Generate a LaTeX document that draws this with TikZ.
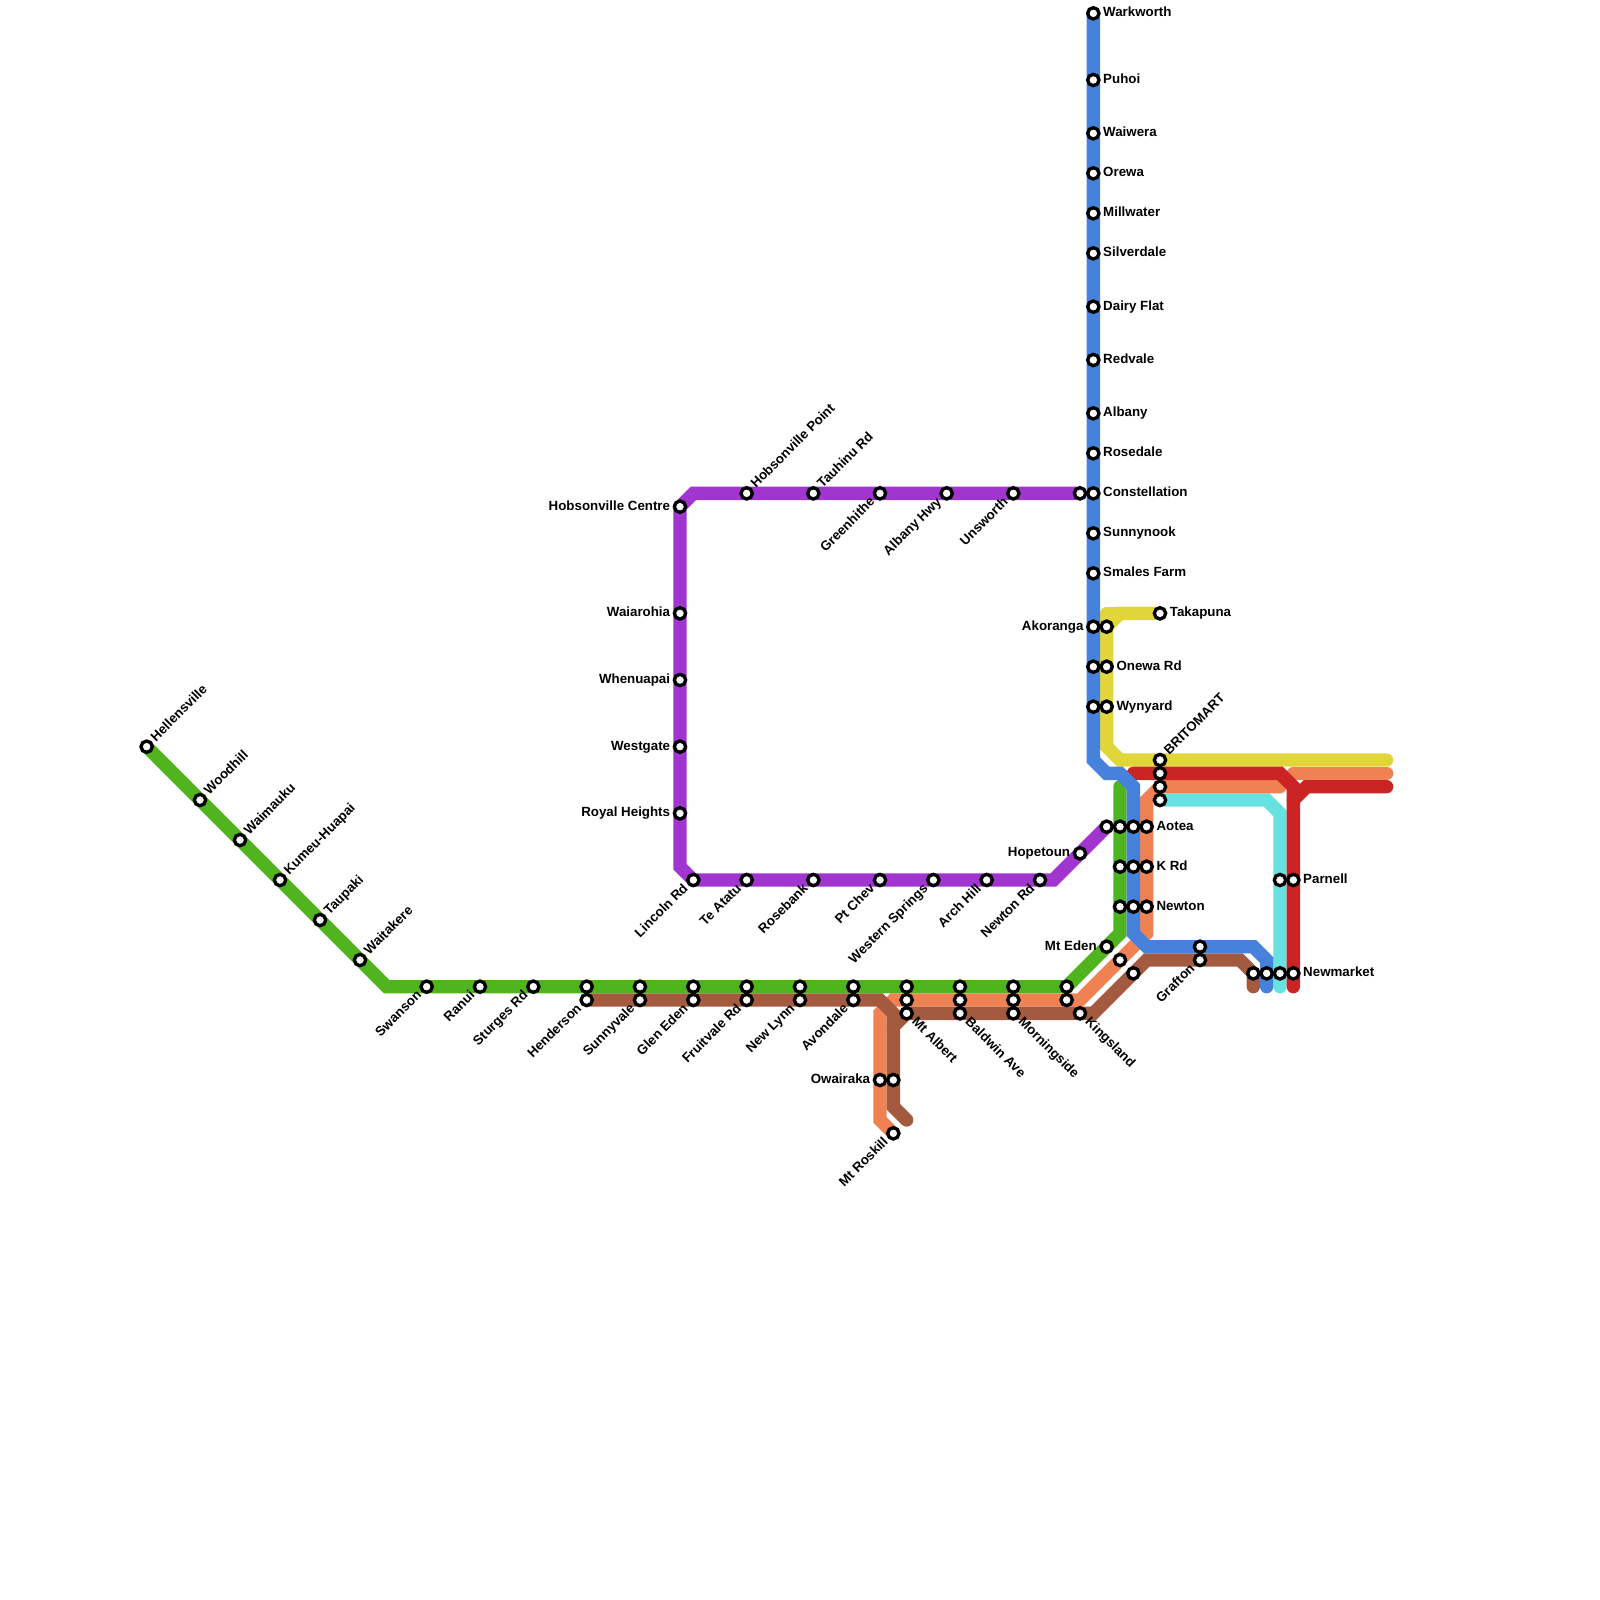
\documentclass[tikz,border=0pt]{standalone}
\usepackage{fontspec}
\setmainfont{Liberation Sans}
\usetikzlibrary{backgrounds}
\definecolor{metroGreen}{HTML}{50B41E}
\definecolor{metroBrown}{HTML}{A45A3F}
\definecolor{metroOrange}{HTML}{EF8152}
\definecolor{metroBlue}{HTML}{4682DC}
\definecolor{metroPurple}{HTML}{A035D0}
\definecolor{metroYellow}{HTML}{E0D63A}
\definecolor{metroRed}{HTML}{CA2424}
\definecolor{metroTeal}{HTML}{68E2E0}
\tikzset{
  metroLine/.style={line width=0.1333cm, line cap=round},
  stopMark/.style={
    circle,
    draw=black,
    fill=white,
    line width=0.0333cm,
    inner sep=0pt,
    minimum size=0.1133cm
  },
  stopName/.style={
    font=\fontsize{3.79}{4.5}\selectfont\bfseries,
    inner sep=0pt
  },
  nameE/.style={stopName, anchor=base west, xshift=0.092cm, yshift=-0.034cm},
  nameW/.style={stopName, anchor=base east, xshift=-0.092cm, yshift=-0.034cm},
  nameNE/.style={stopName, rotate=45, anchor=base west, xshift=0.092cm, yshift=-0.034cm},
  nameSW/.style={stopName, rotate=45, anchor=base east, xshift=-0.092cm, yshift=-0.034cm},
  nameSE/.style={stopName, rotate=-45, anchor=base west, xshift=0.092cm, yshift=-0.034cm}
}
\begin{document}
\begin{tikzpicture}[x=0.13333cm,y=-0.13333cm]
  \useasboundingbox (0,0) rectangle (120,120);

  % western line
  \node[stopMark] (hellensville) at (11,56) {};
  \node[stopMark] (woodhill) at (15,60) {};
  \node[stopMark] (waimauku) at (18,63) {};
  \node[stopMark] (kumeu) at (21,66) {};
  \node[stopMark] (taupaki) at (24,69) {};
  \node[stopMark] (waitakere) at (27,72) {};
  \node[stopMark] (swanson) at (32,74) {};
  \node[stopMark] (ranui) at (36,74) {};
  \node[stopMark] (sturges) at (40,74) {};
  \node[stopMark] (hendersonA) at (44,74) {};
  \node[stopMark] (hendersonB) at (44,75) {};
  \node[stopMark] (sunnyvaleA) at (48,74) {};
  \node[stopMark] (sunnyvaleB) at (48,75) {};
  \node[stopMark] (glenedenA) at (52,74) {};
  \node[stopMark] (glenedenB) at (52,75) {};
  \node[stopMark] (fruitvaleA) at (56,74) {};
  \node[stopMark] (fruitvaleB) at (56,75) {};
  \node[stopMark] (newlynnA) at (60,74) {};
  \node[stopMark] (newlynnB) at (60,75) {};
  \node[stopMark] (avondaleA) at (64,74) {};
  \node[stopMark] (avondaleB) at (64,75) {};
  \node[stopMark] (mtalbertA) at (68,74) {};
  \node[stopMark] (mtalbertB) at (68,75) {};
  \node[stopMark] (mtalbertC) at (68,76) {};
  \node[stopMark] (baldwinA) at (72,74) {};
  \node[stopMark] (baldwinB) at (72,75) {};
  \node[stopMark] (baldwinC) at (72,76) {};
  \node[stopMark] (morningsideA) at (76,74) {};
  \node[stopMark] (morningsideB) at (76,75) {};
  \node[stopMark] (morningsideC) at (76,76) {};
  \node[stopMark] (kingslandA) at (80,74) {};
  \node[stopMark] (kingslandB) at (80,75) {};
  \node[stopMark] (kingslandC) at (81,76) {};
  \node[stopMark] (mtedenA) at (83,71) {};
  \node[stopMark] (mtedenB) at (84,72) {};
  \node[stopMark] (mtedenC) at (85,73) {};
  \node[stopMark] (owairakaA) at (66,81) {};
  \node[stopMark] (owairakaB) at (67,81) {};
  \node[stopMark] (mtroskill) at (67,85) {};

  % northwestern line
  \node[stopMark] (hobsonvilleC) at (51,38) {};
  \node[stopMark] (waiarohia) at (51,46) {};
  \node[stopMark] (whenuapai) at (51,51) {};
  \node[stopMark] (westgate) at (51,56) {};
  \node[stopMark] (royalheights) at (51,61) {};
  \node[stopMark] (hobsonvilleP) at (56,37) {};
  \node[stopMark] (tauhinu) at (61,37) {};
  \node[stopMark] (greenhithe) at (66,37) {};
  \node[stopMark] (albanyhwy) at (71,37) {};
  \node[stopMark] (unsworth) at (76,37) {};
  \node[stopMark] (constellationA) at (81,37) {};
  \node[stopMark] (lincoln) at (52,66) {};
  \node[stopMark] (teatatu) at (56,66) {};
  \node[stopMark] (rosebank) at (61,66) {};
  \node[stopMark] (ptchev) at (66,66) {};
  \node[stopMark] (westernsprings) at (70,66) {};
  \node[stopMark] (archhill) at (74,66) {};
  \node[stopMark] (newtonrd) at (78,66) {};
  \node[stopMark] (hopetoun) at (81,64) {};

  % northern busway
  \node[stopMark] (warkworth) at (82,1) {};
  \node[stopMark] (puhoi) at (82,6) {};
  \node[stopMark] (waiwera) at (82,10) {};
  \node[stopMark] (orewa) at (82,13) {};
  \node[stopMark] (millwater) at (82,16) {};
  \node[stopMark] (silverdale) at (82,19) {};
  \node[stopMark] (dairyflat) at (82,23) {};
  \node[stopMark] (redvale) at (82,27) {};
  \node[stopMark] (albany) at (82,31) {};
  \node[stopMark] (rosedale) at (82,34) {};
  \node[stopMark] (constellationB) at (82,37) {};
  \node[stopMark] (sunnynook) at (82,40) {};
  \node[stopMark] (smalesfarm) at (82,43) {};
  \node[stopMark] (akorangaA) at (82,47) {};
  \node[stopMark] (akorangaB) at (83,47) {};
  \node[stopMark] (onewaA) at (82,50) {};
  \node[stopMark] (onewaB) at (83,50) {};
  \node[stopMark] (wynyardA) at (82,53) {};
  \node[stopMark] (wynyardB) at (83,53) {};
  \node[stopMark] (takapuna) at (87,46) {};

  % city centre
  \node[stopMark] (britomartA) at (87,57) {};
  \node[stopMark] (britomartB) at (87,58) {};
  \node[stopMark] (britomartC) at (87,59) {};
  \node[stopMark] (britomartD) at (87,60) {};
  \node[stopMark] (aoteaA) at (83,62) {};
  \node[stopMark] (aoteaB) at (84,62) {};
  \node[stopMark] (aoteaC) at (85,62) {};
  \node[stopMark] (aoteaD) at (86,62) {};
  \node[stopMark] (krdA) at (84,65) {};
  \node[stopMark] (krdB) at (85,65) {};
  \node[stopMark] (krdC) at (86,65) {};
  \node[stopMark] (newtonA) at (84,68) {};
  \node[stopMark] (newtonB) at (85,68) {};
  \node[stopMark] (newtonC) at (86,68) {};
  \node[stopMark] (graftonA) at (90,71) {};
  \node[stopMark] (graftonB) at (90,72) {};
  \node[stopMark] (parnellA) at (96,66) {};
  \node[stopMark] (parnellB) at (97,66) {};
  \node[stopMark] (newmarketA) at (94,73) {};
  \node[stopMark] (newmarketB) at (95,73) {};
  \node[stopMark] (newmarketC) at (96,73) {};
  \node[stopMark] (newmarketD) at (97,73) {};

  % names
  \node[nameNE] (hellensvilleName) at (hellensville) {Hellensville};
  \node[nameNE] (woodhillName) at (woodhill) {Woodhill};
  \node[nameNE] (waimaukuName) at (waimauku) {Waimauku};
  \node[nameNE] (kumeuName) at (kumeu) {Kumeu-Huapai};
  \node[nameNE] (taupakiName) at (taupaki) {Taupaki};
  \node[nameNE] (waitakereName) at (waitakere) {Waitakere};
  \node[nameNE] (hobsonvillePName) at (hobsonvilleP) {Hobsonville Point};
  \node[nameNE] (tauhinuName) at (tauhinu) {Tauhinu Rd};
  \node[nameNE] (britomartName) at (britomartA) {BRITOMART};

  \node[nameSW] (swansonName) at (swanson) {Swanson};
  \node[nameSW] (ranuiName) at (ranui) {Ranui};
  \node[nameSW] (sturgesName) at (sturges) {Sturges Rd};
  \node[nameSW] (hendersonName) at (hendersonB) {Henderson};
  \node[nameSW] (sunnyvaleName) at (sunnyvaleB) {Sunnyvale};
  \node[nameSW] (glenedenName) at (glenedenB) {Glen Eden};
  \node[nameSW] (fruitvaleName) at (fruitvaleB) {Fruitvale Rd};
  \node[nameSW] (newlynnName) at (newlynnB) {New Lynn};
  \node[nameSW] (avondaleName) at (avondaleB) {Avondale};
  \node[nameSW] (mtroskillName) at (mtroskill) {Mt Roskill};
  \node[nameSW] (greenhitheName) at (greenhithe) {Greenhithe};
  \node[nameSW] (albanyhwyName) at (albanyhwy) {Albany Hwy};
  \node[nameSW] (unsworthName) at (unsworth) {Unsworth};
  \node[nameSW] (lincolnName) at (lincoln) {Lincoln Rd};
  \node[nameSW] (teatatuName) at (teatatu) {Te Atatu};
  \node[nameSW] (rosebankName) at (rosebank) {Rosebank};
  \node[nameSW] (ptchevName) at (ptchev) {Pt Chev};
  \node[nameSW] (westernspringsName) at (westernsprings) {Western Springs};
  \node[nameSW] (archhillName) at (archhill) {Arch Hill};
  \node[nameSW] (newtonrdName) at (newtonrd) {Newton Rd};
  \node[nameSW] (graftonName) at (graftonB) {Grafton};

  \node[nameSE] (mtalbertName) at (mtalbertC) {Mt Albert};
  \node[nameSE] (baldwinName) at (baldwinC) {Baldwin Ave};
  \node[nameSE] (morningsideName) at (morningsideC) {Morningside};
  \node[nameSE] (kingslandName) at (kingslandC) {Kingsland};

  \node[nameW] (hobsonvilleCName) at (hobsonvilleC) {Hobsonville Centre};
  \node[nameW] (waiarohiaName) at (waiarohia) {Waiarohia};
  \node[nameW] (whenuapaiName) at (whenuapai) {Whenuapai};
  \node[nameW] (westgateName) at (westgate) {Westgate};
  \node[nameW] (royalheightsName) at (royalheights) {Royal Heights};
  \node[nameW] (akorangaName) at (akorangaA) {Akoranga};
  \node[nameW] (hopetounName) at (hopetoun) {Hopetoun};
  \node[nameW] (mtedenName) at (mtedenA) {Mt Eden};
  \node[nameW] (owairakaName) at (owairakaA) {Owairaka};

  \node[nameE] (warkworthName) at (warkworth) {Warkworth};
  \node[nameE] (puhoiName) at (puhoi) {Puhoi};
  \node[nameE] (waiweraName) at (waiwera) {Waiwera};
  \node[nameE] (orewaName) at (orewa) {Orewa};
  \node[nameE] (millwaterName) at (millwater) {Millwater};
  \node[nameE] (silverdaleName) at (silverdale) {Silverdale};
  \node[nameE] (dairyflatName) at (dairyflat) {Dairy Flat};
  \node[nameE] (redvaleName) at (redvale) {Redvale};
  \node[nameE] (albanyName) at (albany) {Albany};
  \node[nameE] (rosedaleName) at (rosedale) {Rosedale};
  \node[nameE] (constellationName) at (constellationB) {Constellation};
  \node[nameE] (sunnynookName) at (sunnynook) {Sunnynook};
  \node[nameE] (smalesfarmName) at (smalesfarm) {Smales Farm};
  \node[nameE] (takapunaName) at (takapuna) {Takapuna};
  \node[nameE] (onewaName) at (onewaB) {Onewa Rd};
  \node[nameE] (wynyardName) at (wynyardB) {Wynyard};
  \node[nameE] (aoteaName) at (aoteaD) {Aotea};
  \node[nameE] (krdName) at (krdC) {K Rd};
  \node[nameE] (newtonName) at (newtonC) {Newton};
  \node[nameE] (parnellName) at (parnellB) {Parnell};
  \node[nameE] (newmarketName) at (newmarketD) {Newmarket};

  % free line ends
  \coordinate (greenEnd) at (84,59);
  \coordinate (brownTip) at (68,84);
  \coordinate (brownEnd) at (94,74);
  \coordinate (blueEnd) at (95,74);
  \coordinate (tealEnd) at (96,74);
  \coordinate (redStart) at (85,58);
  \coordinate (redEnd) at (97,74);
  \coordinate (redFork) at (97,60);
  \coordinate (redRight) at (104,59);
  \coordinate (yellowRight) at (104,57);
  \coordinate (orangeLeft) at (97,58);
  \coordinate (orangeRight) at (104,58);
  \coordinate (orangeEnd) at (96,59);

  \begin{pgfonlayer}{background}
    \draw[metroLine, metroPurple] (constellationA.center) -- (52,37) -- (51,38) -- (51,65) -- (52,66) -- (79,66) -- (aoteaA.center);
    \draw[metroLine, metroYellow] (takapuna.center) -- (84,46) -- (83,47) -- (83,56) -- (84,57) -- (yellowRight);
    \draw[metroLine, metroYellow, line join=round] (84,46) -- (83,46) -- (83,47);
    \draw[metroLine, metroTeal] (britomartD.center) -- (95,60) -- (96,61) -- (tealEnd);
    \draw[metroLine, metroGreen] (hellensville.center) -- (29,74) -- (kingslandA.center) -- (84,70) -- (greenEnd);
    \draw[metroLine, metroOrange] (orangeEnd) -- (87,59) -- (86,60) -- (86,70) -- (81,75) -- (67,75) -- (66,76) -- (66,84) -- (mtroskill.center);
    \draw[metroLine, metroOrange] (orangeLeft) -- (orangeRight);
    \draw[metroLine, metroBrown] (hendersonB.center) -- (66,75) -- (67,76) -- (67,83) -- (brownTip);
    \draw[metroLine, metroBrown] (brownEnd) -- (94,73) -- (93,72) -- (86,72) -- (82,76) -- (68,76) -- (67,77);
    \draw[metroLine, metroRed] (redStart) -- (96,58) -- (97,59) -- (redEnd);
    \draw[metroLine, metroRed] (redFork) -- (98,59) -- (redRight);
    \draw[metroLine, metroBlue] (warkworth.center) -- (82,57) -- (83,58) -- (84,58) -- (85,59) -- (85,70) -- (86,71) -- (94,71) -- (95,72) -- (blueEnd);
  \end{pgfonlayer}
\end{tikzpicture}
\end{document}
